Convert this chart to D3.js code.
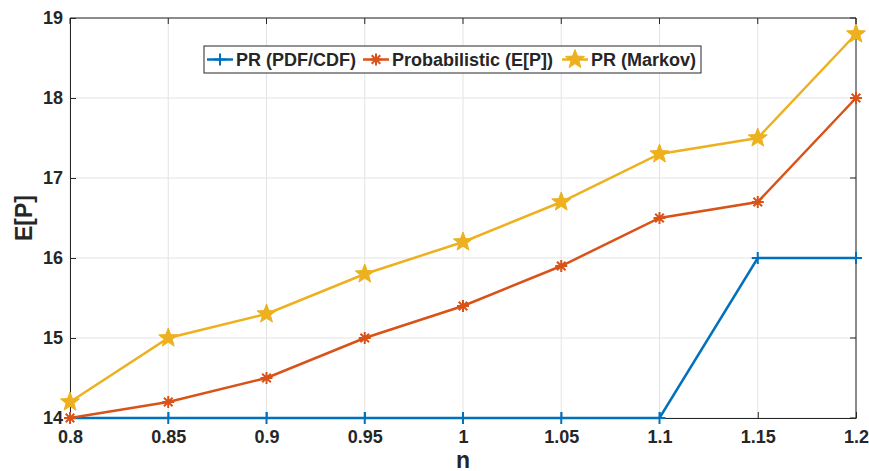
<!DOCTYPE html>
<html>
<head>
<meta charset="utf-8">
<script src="https://cdn.jsdelivr.net/npm/d3@7"></script>
<style>
  body { margin: 0; background: #fff; }
  text { font-family: "Liberation Sans", Arial, sans-serif; font-weight: bold; fill: #262626; }
</style>
</head>
<body>
<script>
const nValues = [0.8, 0.85, 0.9, 0.95, 1, 1.05, 1.1, 1.15, 1.2];
const prPdfCdf = [14, 14, 14, 14, 14, 14, 14, 16, 16];
const probabilistic = [14, 14.2, 14.5, 15, 15.4, 15.9, 16.5, 16.7, 18];
const prMarkov = [14.2, 15, 15.3, 15.8, 16.2, 16.7, 17.3, 17.5, 18.8];
const xTicks = [0.8, 0.85, 0.9, 0.95, 1, 1.05, 1.1, 1.15, 1.2];
const yTicks = [14, 15, 16, 17, 18, 19];
const seriesNames = ["PR (PDF/CDF)", "Probabilistic (E[P])", "PR (Markov)"];

const wb = 869, hb = 471;
const margin = { top: 18, right: 13, bottom: 53, left: 70 };
const width = wb - margin.left - margin.right;
const height = hb - margin.top - margin.bottom;

const series = [
    { name: seriesNames[0], values: prPdfCdf, colour: "#0072BD", marker: "plus" },
    { name: seriesNames[1], values: probabilistic, colour: "#D95319", marker: "asterisk" },
    { name: seriesNames[2], values: prMarkov, colour: "#EDB120", marker: "star" }
];

const svg = d3.select("body").append("svg")
    .attr("width", wb).attr("height", hb)
    .append("g")
    .attr("transform", `translate(${margin.left}, ${margin.top})`);

const xax = d3.scaleLinear().domain([0.8, 1.2]).range([0, width]);
const yax = d3.scaleLinear().domain([14, 19]).range([height, 0]);

// grid
svg.append("g").selectAll("line").data(xTicks).join("line")
    .attr("x1", d => xax(d)).attr("x2", d => xax(d))
    .attr("y1", 0).attr("y2", height)
    .attr("stroke", "#e3e3e3").attr("stroke-width", 1);
svg.append("g").selectAll("line").data(yTicks).join("line")
    .attr("y1", d => yax(d)).attr("y2", d => yax(d))
    .attr("x1", 0).attr("x2", width)
    .attr("stroke", "#e3e3e3").attr("stroke-width", 1);

// axes (ticks pointing inward, MATLAB style)
const xAxis = svg.append("g")
    .attr("transform", `translate(0, ${height})`)
    .call(d3.axisBottom(xax).tickValues(xTicks).tickFormat(d3.format("")).tickSizeInner(-6).tickSizeOuter(0).tickPadding(12));
const yAxis = svg.append("g")
    .call(d3.axisLeft(yax).tickValues(yTicks).tickFormat(d3.format("d")).tickSizeInner(-6).tickSizeOuter(0).tickPadding(7));
[xAxis, yAxis].forEach(a => {
    a.select(".domain").attr("stroke", "#262626");
    a.selectAll(".tick line").attr("stroke", "#262626");
    a.selectAll(".tick text").style("font-size", "18px")
        .style("font-family", "'Liberation Sans', Arial, sans-serif").attr("fill", "#262626");
});
// top and right box
svg.append("line").attr("x1", 0).attr("x2", width).attr("y1", 0).attr("y2", 0).attr("stroke", "#262626");
svg.append("line").attr("x1", width).attr("x2", width).attr("y1", 0).attr("y2", height).attr("stroke", "#262626");
svg.append("g").selectAll("line").data(xTicks).join("line")
    .attr("x1", d => xax(d)).attr("x2", d => xax(d)).attr("y1", 0).attr("y2", 6).attr("stroke", "#262626");
svg.append("g").selectAll("line").data(yTicks).join("line")
    .attr("x1", width - 6).attr("x2", width).attr("y1", d => yax(d)).attr("y2", d => yax(d)).attr("stroke", "#262626");

// axis labels
svg.append("text").attr("x", width / 2).attr("y", height + 50)
    .attr("text-anchor", "middle").style("font-size", "23px").text("n");
svg.append("text").attr("transform", `translate(-38, ${height / 2}) rotate(-90)`)
    .attr("text-anchor", "middle").style("font-size", "23px").text("E[P]");

// marker drawing
const starPath = (r) => {
    const pts = [];
    for (let i = 0; i < 10; i++) {
        const rr = i % 2 === 0 ? r : r * 0.42;
        const a = -Math.PI / 2 + i * Math.PI / 5;
        pts.push([rr * Math.cos(a), rr * Math.sin(a)]);
    }
    return "M" + pts.map(p => p.join(",")).join("L") + "Z";
};
const drawMarker = (g, type, colour) => {
    if (type === "plus") {
        g.append("path").attr("d", "M-6,0L6,0M0,-6L0,6")
            .attr("stroke", colour).attr("stroke-width", 2).attr("fill", "none");
    } else if (type === "asterisk") {
        g.append("path").attr("d", "M-6,0L6,0M0,-6L0,6M-4.3,-4.3L4.3,4.3M-4.3,4.3L4.3,-4.3")
            .attr("stroke", colour).attr("stroke-width", 2).attr("fill", "none");
    } else {
        g.append("path").attr("d", starPath(10)).attr("fill", colour).attr("stroke", colour).attr("stroke-width", 1);
    }
};

const line = d3.line().x((d, i) => xax(nValues[i])).y(d => yax(d));
series.forEach(s => {
    svg.append("path").datum(s.values)
        .attr("d", line).attr("fill", "none")
        .attr("stroke", s.colour).attr("stroke-width", 2.5);
    s.values.forEach((v, i) => {
        const g = svg.append("g").attr("transform", `translate(${xax(nValues[i])}, ${yax(v)})`);
        drawMarker(g, s.marker, s.colour);
    });
});

// legend
const legend = svg.append("g").attr("transform", `translate(${204 - margin.left}, ${46 - margin.top})`);
legend.append("rect").attr("width", 497).attr("height", 27)
    .attr("fill", "#fff").attr("stroke", "#262626").attr("stroke-width", 1);
const legendX = [3, 159, 358];
series.forEach((s, i) => {
    const g = legend.append("g").attr("transform", `translate(${legendX[i]}, 13.5)`);
    g.append("line").attr("x1", 0).attr("x2", 26).attr("stroke", s.colour).attr("stroke-width", 2.5);
    const m = g.append("g").attr("transform", "translate(13, 0)");
    drawMarker(m, s.marker, s.colour);
    g.append("text").attr("x", 29).attr("y", 6.5).style("font-size", "18px").text(s.name);
});
</script>
</body>
</html>
